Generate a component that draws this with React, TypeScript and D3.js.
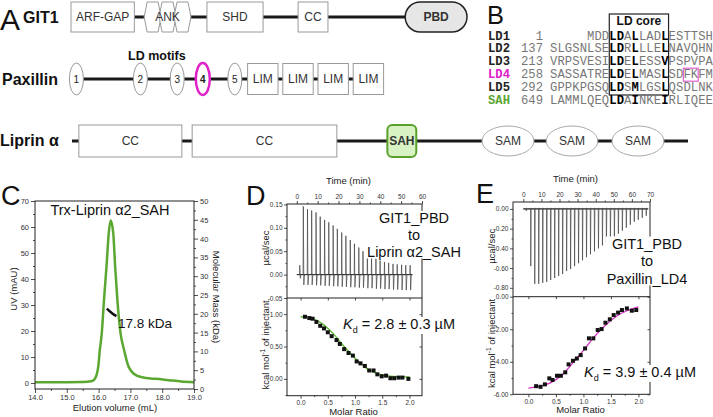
import React, { useEffect, useRef } from "react";
import * as d3 from "d3";

const SANS = "'Liberation Sans', Arial, Helvetica, sans-serif";
const MONO = "'Liberation Mono', 'DejaVu Sans Mono', monospace";

// ---------- A: domain maps (residue numbers / schematic units) ----------
const git1Length = 770;
const git1Domains = [
  { name: "ARF-GAP", start: 1, end: 124, shape: "box" },
  { name: "ANK", start: 145, end: 232, shape: "ank" },
  { name: "SHD", start: 265, end: 374, shape: "box" },
  { name: "CC", start: 442, end: 500, shape: "box" },
  { name: "PBD", start: 650, end: 770, shape: "pill" },
];
const paxillinMotifs = ["1", "2", "3", "4", "5"];
const paxillinMotifAt = [2, 22, 33.5, 41.5, 51.5];
const paxillinLims = [
  [55.5, 65],
  [66.5, 76],
  [77.5, 87],
  [88.5, 98],
];
const liprinLength = 1257;
const liprinDomains = [
  { name: "CC", start: 15, end: 225, shape: "box" },
  { name: "CC", start: 246, end: 541, shape: "box" },
  { name: "SAH", start: 644, end: 703, shape: "sah" },
  { name: "SAM", start: 837, end: 943, shape: "sam" },
  { name: "SAM", start: 968, end: 1073, shape: "sam" },
  { name: "SAM", start: 1102, end: 1208, shape: "sam" },
];

// ---------- B: LD motif alignment ----------
const ldNames = ["LD1", "LD2", "LD3", "LD4", "LD5", "SAH"];
const ldStarts = [1, 137, 213, 258, 292, 649];
const ldSeqs = [
  "     MDDLDALLADLESTTSH",
  "SLGSNLSELDRLLLELNAVQHN",
  "VRPSVESILDELESSVPSPVPA",
  "SASSATRELDELMASLSDFKFM",
  "GPPKPGSQLDSMLGSLQSDLNK",
  "LAMMLQEQLDAINKEIRLIQEE",
];
const ldBoldCols = [8, 9, 11, 15];

// ---------- C: SEC-MALS ----------
const elutionVol = [14, 15, 15.5, 15.8, 15.9, 15.99, 16.04, 16.1, 16.17, 16.25, 16.32, 16.38, 16.46, 16.52, 16.59, 16.69, 16.8, 16.94, 17.2, 17.5, 17.8, 18.2, 18.6, 19];
const uvSignal = [0.3, 0.3, 0.35, 0.8, 2, 6.4, 12.8, 19.2, 32, 45, 57.7, 62.5, 57.7, 44.9, 32.1, 19.2, 12.8, 6.4, 2.8, 1.9, 1.6, 1.1, 0.6, 0.3];
const massVol = [16.26, 16.36, 16.46, 16.56];
const massKDa = [21.4, 20.6, 19.9, 19.4];
const cUvTicks = [0, 10, 20, 30, 40, 50, 60, 70];
const cMassTicks = [0, 5, 10, 15, 20, 25, 30, 35, 40, 45, 50];
const cVolTicks = [14, 15, 16, 17, 18, 19];

// ---------- D: ITC GIT1_PBD -> Liprin a2_SAH ----------
const dInjTime = [1.3, 3.0, 5.0, 7.0, 9.1, 11.1, 13.2, 15.2, 17.3, 19.3, 21.4, 23.4, 25.5, 27.5, 29.6, 31.6, 33.7, 35.7, 37.8, 39.8, 41.9, 43.9, 46.0, 48.0, 50.1, 52.1, 54.2];
const dInjPeak = [0.02, 0.146, 0.14, 0.137, 0.133, 0.124, 0.117, 0.112, 0.105, 0.098, 0.09, 0.083, 0.074, 0.066, 0.058, 0.05, 0.044, 0.039, 0.034, 0.03, 0.027, 0.025, 0.023, 0.022, 0.021, 0.02, 0.02];
const dInjDip = [-0.008, -0.022, -0.022, -0.022, -0.023, -0.023, -0.024, -0.024, -0.025, -0.025, -0.026, -0.026, -0.027, -0.027, -0.028, -0.028, -0.029, -0.029, -0.03, -0.03, -0.031, -0.031, -0.032, -0.032, -0.033, -0.033, -0.033];
const dRatio = [0.08, 0.16, 0.22, 0.29, 0.36, 0.43, 0.5, 0.57, 0.66, 0.72, 0.8, 0.88, 0.96, 1.03, 1.1, 1.18, 1.26, 1.34, 1.41, 1.49, 1.57, 1.65, 1.72, 1.8, 1.87, 1.98];
const dHeat = [0.96, 0.94, 0.93, 0.88, 0.82, 0.78, 0.72, 0.66, 0.6, 0.54, 0.46, 0.4, 0.36, 0.27, 0.24, 0.2, 0.13, 0.13, 0.07, 0.04, 0.05, 0.01, 0.01, 0.02, 0.02, 0.0];
const dFitRatio = [0, 0.1, 0.2, 0.3, 0.4, 0.5, 0.6, 0.7, 0.8, 0.9, 1.0, 1.1, 1.2, 1.3, 1.4, 1.5, 1.6, 1.7, 1.8, 1.9, 2.0];
const dFitHeat = [0.96, 0.955, 0.94, 0.9, 0.85, 0.78, 0.7, 0.6, 0.5, 0.41, 0.32, 0.24, 0.17, 0.12, 0.085, 0.06, 0.045, 0.037, 0.033, 0.03, 0.03];
const dTimeTicks = [0, 10, 20, 30, 40, 50, 60];
const dRawTicks = [-0.05, 0, 0.05, 0.1, 0.15];
const dHeatTicks = [0, 0.5, 1.0];

// ---------- E: ITC GIT1_PBD -> Paxillin_LD4 ----------
const eInjTime = [1.5, 4.0, 6.2, 8.4, 10.6, 12.8, 15.0, 17.2, 19.4, 21.6, 23.8, 26.0, 28.2, 30.4, 32.6, 34.8, 37.0, 39.2, 41.4, 43.6, 45.8, 48.0, 50.2, 52.4, 54.6, 56.8, 59.0, 61.2, 63.4, 65.6, 67.8];
const eInjPeak = [-0.02, -0.58, -0.76, -0.76, -0.75, -0.74, -0.72, -0.7, -0.68, -0.66, -0.63, -0.61, -0.58, -0.55, -0.52, -0.49, -0.46, -0.43, -0.4, -0.37, -0.34, -0.31, -0.28, -0.25, -0.22, -0.19, -0.16, -0.13, -0.11, -0.09, -0.07];
const eInjDip = [0.005, 0.01, 0.01, 0.01, 0.01, 0.01, 0.01, 0.01, 0.01, 0.01, 0.01, 0.01, 0.01, 0.01, 0.01, 0.01, 0.01, 0.01, 0.01, 0.01, 0.01, 0.01, 0.01, 0.01, 0.01, 0.01, 0.01, 0.01, 0.01, 0.01, 0.01];
const eRatio = [0.14, 0.22, 0.3, 0.38, 0.44, 0.52, 0.59, 0.67, 0.73, 0.81, 0.88, 0.95, 1.03, 1.1, 1.18, 1.26, 1.33, 1.4, 1.48, 1.55, 1.63, 1.7, 1.79, 1.88, 1.96];
const eHeat = [-5.5, -5.54, -5.39, -5.02, -5.12, -4.86, -4.86, -4.65, -4.16, -3.94, -3.8, -3.59, -3.18, -2.56, -2.56, -2.05, -1.99, -1.6, -1.39, -1.13, -0.98, -0.82, -0.72, -0.86, -0.82];
const eFitRatio = [0, 0.2, 0.4, 0.6, 0.8, 1.0, 1.2, 1.4, 1.6, 1.8, 2.0];
const eFitHeat = [-5.62, -5.52, -5.3, -4.85, -4.1, -3.3, -2.45, -1.75, -1.2, -0.85, -0.62];
const eTimeTicks = [0, 10, 20, 30, 40, 50, 60, 70];
const eRawTicks = [-0.8, -0.6, -0.4, -0.2, 0];
const eHeatTicks = [-6, -4, -2, 0];
const ratioTicks = [0, 0.5, 1.0, 1.5, 2.0];

const txt = (g: any, s: string, x: number, y: number, size: number, o: any = {}) =>
  g
    .append("text")
    .attr("x", x)
    .attr("y", y)
    .attr("font-family", o.family || SANS)
    .attr("font-size", size)
    .attr("font-weight", o.weight || "normal")
    .attr("font-style", o.style || "normal")
    .attr("fill", o.fill || "#111")
    .attr("text-anchor", o.anchor || "start")
    .text(s);

const hline = (g: any, x1: number, x2: number, y: number) =>
  g.append("line").attr("x1", x1).attr("x2", x2).attr("y1", y).attr("y2", y).attr("stroke", "#1a1a1a").attr("stroke-width", 3);

const styleAxis = (a: any, size = 6.5) => {
  a.attr("font-family", SANS).attr("font-size", size);
  a.select(".domain").remove();
  a.selectAll(".tick line").attr("stroke", "#222").attr("stroke-width", 0.8);
  a.selectAll(".tick text").attr("fill", "#333");
};

const withBg = (g: any, build: (tg: any) => void) => {
  const tg = g.append("g");
  build(tg);
  const bb = tg.node().getBBox();
  g.insert("rect", () => tg.node())
    .attr("x", bb.x - 1)
    .attr("y", bb.y + 1)
    .attr("width", bb.width + 2)
    .attr("height", bb.height - 2)
    .attr("fill", "#fff");
};

function drawA(svg: any) {
  const g = svg.append("g");
  txt(g, "A", 0, 30, 30);
  txt(g, "GIT1", 23, 23, 16, { weight: "bold" });
  const x = d3.scaleLinear().domain([1, git1Length]).range([71, 467]);
  const yc = 17;
  const h = 30;
  hline(g, x(1), x(650), yc);
  git1Domains.forEach((d) => {
    const x0 = x(d.start);
    const x1 = x(d.end);
    if (d.shape === "box") {
      g.append("rect").attr("x", x0).attr("y", yc - h / 2).attr("width", x1 - x0).attr("height", h).attr("fill", "#fff").attr("stroke", "#999");
    } else if (d.shape === "ank") {
      const w = (x1 - x0) / 3;
      for (let k = 0; k < 3; k++) {
        const a = x0 + k * w - 1;
        const b = x0 + (k + 1) * w + 1;
        const pts = [[a, yc], [a + 3, yc - h / 2], [b - 3, yc - h / 2], [b, yc], [b - 3, yc + h / 2], [a + 3, yc + h / 2]];
        g.append("polygon").attr("points", pts.map((p) => p.join(",")).join(" ")).attr("fill", "#fff").attr("stroke", "#999");
      }
    } else {
      g.append("rect").attr("x", x0).attr("y", yc - h / 2).attr("width", x1 - x0).attr("height", h).attr("rx", h / 2).attr("fill", "#e6e6e6").attr("stroke", "#222").attr("stroke-width", 1.5);
    }
    txt(g, d.name, (x0 + x1) / 2, yc + 4.3, 12, { anchor: "middle", weight: d.shape === "pill" ? "bold" : "normal", fill: "#333" });
  });

  // Paxillin
  txt(g, "LD motifs", 128, 60, 12.5, { weight: "bold" });
  txt(g, "Paxillin", 2, 85, 16, { weight: "bold" });
  const px = d3.scaleLinear().domain([0, 100]).range([70, 390]);
  const yp = 79;
  hline(g, px(paxillinMotifAt[0]), px(paxillinLims[3][1]), yp);
  paxillinLims.forEach(([a, b]) => {
    g.append("rect").attr("x", px(a)).attr("y", yp - 15.5).attr("width", px(b) - px(a)).attr("height", 31).attr("fill", "#fff").attr("stroke", "#999");
    txt(g, "LIM", (px(a) + px(b)) / 2, yp + 4.3, 12, { anchor: "middle", fill: "#333" });
  });
  paxillinMotifs.forEach((m, i) => {
    const hi = m === "4";
    g.append("ellipse").attr("cx", px(paxillinMotifAt[i])).attr("cy", yp).attr("rx", 7).attr("ry", 16).attr("fill", "#fff").attr("stroke", hi ? "#e020c8" : "#999").attr("stroke-width", hi ? 2.5 : 1);
    txt(g, m, px(paxillinMotifAt[i]), yp + 3.6, 10, { anchor: "middle", weight: hi ? "bold" : "normal", fill: "#222" });
  });

  // Liprin
  txt(g, "Liprin α", 0, 146, 16, { weight: "bold" });
  const lx = d3.scaleLinear().domain([1, liprinLength]).range([72, 688]);
  const yl = 141;
  hline(g, lx(1), lx(liprinLength), yl);
  liprinDomains.forEach((d) => {
    const x0 = lx(d.start);
    const x1 = lx(d.end);
    if (d.shape === "box") {
      g.append("rect").attr("x", x0).attr("y", yl - 16).attr("width", x1 - x0).attr("height", 32).attr("fill", "#fff").attr("stroke", "#999");
    } else if (d.shape === "sah") {
      g.append("rect").attr("x", x0).attr("y", yl - 16).attr("width", x1 - x0).attr("height", 32).attr("rx", 5).attr("fill", "#d8f2c4").attr("stroke", "#5aa02c").attr("stroke-width", 2);
    } else {
      g.append("ellipse").attr("cx", (x0 + x1) / 2).attr("cy", yl).attr("rx", (x1 - x0) / 2).attr("ry", 15).attr("fill", "#fff").attr("stroke", "#aaa");
    }
    txt(g, d.name, (x0 + x1) / 2, yl + 4.3, 12, { anchor: "middle", weight: d.shape === "sah" ? "bold" : "normal", fill: "#333" });
  });
}

function drawB(svg: any) {
  const g = svg.append("g");
  txt(g, "B", 487, 24, 25.5);
  const cw = 7.41;
  const fs = 12.2;
  const seqX = 550;
  const row0 = 39.5;
  const step = 12.9;
  const labelColor = ["#222", "#222", "#222", "#e020c8", "#222", "#5aa532"];
  g.append("rect").attr("x", seqX + 8 * cw).attr("y", 14).attr("width", 8 * cw).attr("height", 81).attr("fill", "none").attr("stroke", "#222").attr("stroke-width", 1.2);
  txt(g, "LD core", seqX + 12 * cw, 25, 12, { anchor: "middle", weight: "bold" });
  ldNames.forEach((name, i) => {
    const y = row0 + i * step;
    txt(g, name, 488, y, fs, { family: MONO, weight: "bold", fill: labelColor[i] });
    txt(g, String(ldStarts[i]), 543, y, fs, { family: MONO, anchor: "end", fill: "#777" });
    ldSeqs[i].split("").forEach((c, j) => {
      if (c === " ") return;
      const b = ldBoldCols.includes(j);
      txt(g, c, seqX + j * cw, y, fs, { family: MONO, weight: b ? "bold" : "normal", fill: b ? "#000" : "#777" });
    });
  });
  g.append("rect").attr("x", seqX + 18 * cw).attr("y", row0 + 3 * step - 10).attr("width", 2 * cw).attr("height", 13).attr("fill", "none").attr("stroke", "#e060d0").attr("stroke-width", 1.2);
}

function drawC(svg: any) {
  const g = svg.append("g");
  txt(g, "C", 1, 205, 27);
  const x = d3.scaleLinear().domain([14, 19]).range([35, 194]);
  const yL = d3.scaleLinear().domain([-2.3, 70]).range([389, 201]);
  const yR = d3.scaleLinear().domain([0, 50]).range([389, 201]);

  const line = d3.line<number>().x((d, i) => x(elutionVol[i])).y((d) => yL(d)).curve(d3.curveMonotoneX);
  g.append("path").attr("d", line(uvSignal)).attr("fill", "none").attr("stroke", "#5aa832").attr("stroke-width", 2.5);
  const mline = d3.line<number>().x((d, i) => x(massVol[i])).y((d) => yR(d));
  g.append("path").attr("d", mline(massKDa)).attr("fill", "none").attr("stroke", "#111").attr("stroke-width", 2.5);

  g.append("rect").attr("x", 35).attr("y", 201).attr("width", 159).attr("height", 188).attr("fill", "none").attr("stroke", "#222").attr("stroke-width", 1);

  const ax = (a: any, tr: string, size = 7.5) => {
    const s = g.append("g").attr("transform", tr).call(a);
    styleAxis(s, size);
  };
  ax(d3.axisLeft(yL).tickValues(cUvTicks).tickSize(4).tickPadding(2), "translate(35,0)");
  ax(d3.axisLeft(yL).tickValues(cUvTicks.map((v) => v + 5).filter((v) => v < 70)).tickSize(2).tickFormat(() => ""), "translate(35,0)");
  ax(d3.axisRight(yR).tickValues(cMassTicks).tickSize(4).tickPadding(2), "translate(194,0)");
  ax(d3.axisRight(yR).tickValues(cMassTicks.slice(1).map((v) => v - 2.5)).tickSize(2).tickFormat(() => ""), "translate(194,0)");
  ax(d3.axisBottom(x).tickValues(cVolTicks).tickSize(4).tickPadding(2), "translate(0,389)");
  ax(d3.axisBottom(x).tickValues(cVolTicks.slice(1).map((v) => v - 0.5)).tickSize(2).tickFormat(() => ""), "translate(0,389)");

  txt(g, "Trx-Liprin α2_SAH", 110, 215, 14.5, { anchor: "middle" });
  txt(g, "17.8 kDa", 118, 328, 13.5);
  txt(g, "Elution volume (mL)", 115, 411, 9.5, { anchor: "middle", fill: "#222" });
  txt(g, "UV (mAU)", 0, 0, 9.5, { anchor: "middle", fill: "#222" }).attr("transform", "translate(17,289) rotate(-90)");
  txt(g, "Molecular Mass (kDa)", 0, 0, 9.5, { anchor: "middle", fill: "#222" }).attr("transform", "translate(212.5,297) rotate(90)");
}

function drawITC(svg: any, p: any) {
  const g = svg.append("g");
  txt(g, p.letter, p.letterX, p.letterY, 27);
  const xt = d3.scaleLinear().domain(p.timeDomain).range([p.left, p.right]);
  const yr = d3.scaleLinear().domain(p.rawDomain).range([p.mid, p.top]);
  const xr = d3.scaleLinear().domain(p.ratioDomain).range([p.left, p.right]);
  const yh = d3.scaleLinear().domain(p.heatDomain).range([p.bottom, p.mid]);

  // raw thermogram
  const pts: [number, number][] = [[0, 0]];
  p.times.forEach((t: number, i: number) => {
    pts.push([t, 0], [t + 0.12, p.peaks[i]], [t + 0.35, p.dips[i]], [t + 0.7, 0]);
  });
  pts.push([p.times[p.times.length - 1] + 1.2, 0]);
  g.append("line").attr("x1", xt(0)).attr("x2", xt(pts[pts.length - 1][0])).attr("y1", yr(0)).attr("y2", yr(0)).attr("stroke", "#111").attr("stroke-width", 1);
  const tl = d3.line<[number, number]>().x((d) => xt(d[0])).y((d) => yr(d[1]));
  g.append("path").attr("d", tl(pts)).attr("fill", "none").attr("stroke", "#444").attr("stroke-width", 0.7);

  // fit + points
  const fl = d3.line<number>().x((d, i) => xr(p.fitRatio[i])).y((d) => yh(d)).curve(d3.curveMonotoneX);
  g.append("path").attr("d", fl(p.fitHeat)).attr("fill", "none").attr("stroke", p.fitColor).attr("stroke-width", 1.3);
  g.selectAll(null)
    .data(p.heat)
    .enter()
    .append("rect")
    .attr("x", (d: number, i: number) => xr(p.ratio[i]) - 2)
    .attr("y", (d: number) => yh(d) - 2)
    .attr("width", 4)
    .attr("height", 4)
    .attr("fill", "#111");

  // frames
  g.append("rect").attr("x", p.left).attr("y", p.top).attr("width", p.right - p.left).attr("height", p.bottom - p.top).attr("fill", "none").attr("stroke", "#222").attr("stroke-width", 1);
  g.append("line").attr("x1", p.left).attr("x2", p.right).attr("y1", p.mid).attr("y2", p.mid).attr("stroke", "#222").attr("stroke-width", 1);

  const ax = (a: any, tr: string) => {
    const s = g.append("g").attr("transform", tr).call(a);
    styleAxis(s, 6.5);
  };
  const f2 = (d: any) => (+d).toFixed(2);
  const f1 = (d: any) => (+d).toFixed(1);
  ax(d3.axisTop(xt).tickValues(p.timeTicks).tickSize(3).tickPadding(2).tickFormat(d3.format("d")), `translate(0,${p.top})`);
  ax(d3.axisTop(xt).tickValues(p.timeTicks.slice(1).map((v: number) => v - 5)).tickSize(1.5).tickFormat(() => ""), `translate(0,${p.top})`);
  ax(d3.axisLeft(yr).tickValues(p.rawTicks).tickSize(3).tickPadding(1.5).tickFormat(f2), `translate(${p.left},0)`);
  ax(d3.axisLeft(yr).tickValues(p.rawMinor).tickSize(1.5).tickFormat(() => ""), `translate(${p.left},0)`);
  ax(d3.axisLeft(yh).tickValues(p.heatTicks).tickSize(3).tickPadding(1.5).tickFormat(f2), `translate(${p.left},0)`);
  ax(d3.axisLeft(yh).tickValues(p.heatMinor).tickSize(1.5).tickFormat(() => ""), `translate(${p.left},0)`);
  ax(d3.axisRight(yh).tickValues(p.heatTicks).tickSize(-2.5).tickFormat(() => ""), `translate(${p.right},0)`);
  ax(d3.axisBottom(xr).tickValues(ratioTicks).tickSize(3).tickPadding(2).tickFormat(f1), `translate(0,${p.bottom})`);
  ax(d3.axisBottom(xr).tickValues(ratioTicks.slice(1).map((v) => v - 0.25)).tickSize(1.5).tickFormat(() => ""), `translate(0,${p.bottom})`);
  ax(d3.axisBottom(xr).tickValues(ratioTicks).tickSize(2.5).tickFormat(() => ""), `translate(0,${p.mid})`);

  txt(g, "Time (min)", (p.left + p.right) / 2 - 6, p.top - 20, 9.5, { anchor: "middle", fill: "#222" });
  txt(g, "Molar Ratio", (p.left + p.right) / 2 - 1, p.bottom + 19, 9.5, { anchor: "middle", fill: "#222" });
  txt(g, "µcal/sec", 0, 0, 9.5, { anchor: "middle", fill: "#222" }).attr("transform", `translate(${p.left - 18},${(p.top + p.mid) / 2 - 3}) rotate(-90)`);
  const kl = g.append("text").attr("transform", `translate(${p.left - 18},${(p.mid + p.bottom) / 2 - 2}) rotate(-90)`).attr("text-anchor", "middle").attr("font-family", SANS).attr("font-size", 9.5).attr("fill", "#222");
  kl.append("tspan").text("kcal mol");
  kl.append("tspan").attr("font-size", 6.5).attr("dy", -4).text("-1");
  kl.append("tspan").attr("dy", 4).text(" of injectant");

  withBg(g, (tg) => {
    p.title.forEach((s: string, i: number) => txt(tg, s, p.titleX, p.titleY[i], 14.5, { anchor: "middle" }));
  });
  withBg(g, (tg) => {
    const kt = tg.append("text").attr("x", p.kdX).attr("y", p.kdY).attr("text-anchor", "middle").attr("font-family", SANS).attr("font-size", 14.5).attr("fill", "#111");
    kt.append("tspan").attr("font-style", "italic").text("K");
    kt.append("tspan").attr("font-size", 9).attr("dy", 4).text("d");
    kt.append("tspan").attr("dy", -4).text(` = ${p.kd}`);
  });
}

const App = () => {
  const ref = useRef<SVGSVGElement>(null);

  useEffect(() => {
    const svg = d3.select(ref.current);
    svg.selectAll("*").remove();
    drawA(svg);
    drawB(svg);
    drawC(svg);
    drawITC(svg, {
      letter: "D", letterX: 246, letterY: 205,
      left: 287, right: 422, top: 204, mid: 298, bottom: 395.7,
      timeDomain: [-4.7, 60], rawDomain: [-0.05, 0.151],
      ratioDomain: [-0.25, 2.23], heatDomain: [-0.26, 1.25],
      timeTicks: dTimeTicks, rawTicks: dRawTicks, rawMinor: [-0.025, 0.025, 0.075, 0.125],
      heatTicks: dHeatTicks, heatMinor: [-0.25, 0.25, 0.75],
      times: dInjTime, peaks: dInjPeak, dips: dInjDip,
      ratio: dRatio, heat: dHeat, fitRatio: dFitRatio, fitHeat: dFitHeat, fitColor: "#5db82f",
      title: ["GIT1_PBD", "to", "Liprin α2_SAH"], titleX: 414, titleY: [223, 240, 256.5],
      kd: "2.8 ± 0.3 µM", kdX: 399, kdY: 329,
    });
    drawITC(svg, {
      letter: "E", letterX: 476, letterY: 203,
      left: 513, right: 650, top: 202, mid: 296.7, bottom: 394.3,
      timeDomain: [-5.7, 70], rawDomain: [-0.89, 0.07],
      ratioDomain: [-0.28, 2.21], heatDomain: [-6, 0],
      timeTicks: eTimeTicks, rawTicks: eRawTicks, rawMinor: [-0.7, -0.5, -0.3, -0.1],
      heatTicks: eHeatTicks, heatMinor: [-5, -3, -1],
      times: eInjTime, peaks: eInjPeak, dips: eInjDip,
      ratio: eRatio, heat: eHeat, fitRatio: eFitRatio, fitHeat: eFitHeat, fitColor: "#d62fc8",
      title: ["GIT1_PBD", "to", "Paxillin_LD4"], titleX: 647, titleY: [248.5, 266, 283.5],
      kd: "3.9 ± 0.4 µM", kdX: 640, kdY: 377,
    });
  }, []);

  return (
    <svg
      ref={ref}
      width={713}
      height={417}
      style={{ position: "absolute", left: 0, top: 0, background: "#fff" }}
    />
  );
};

export default App;
